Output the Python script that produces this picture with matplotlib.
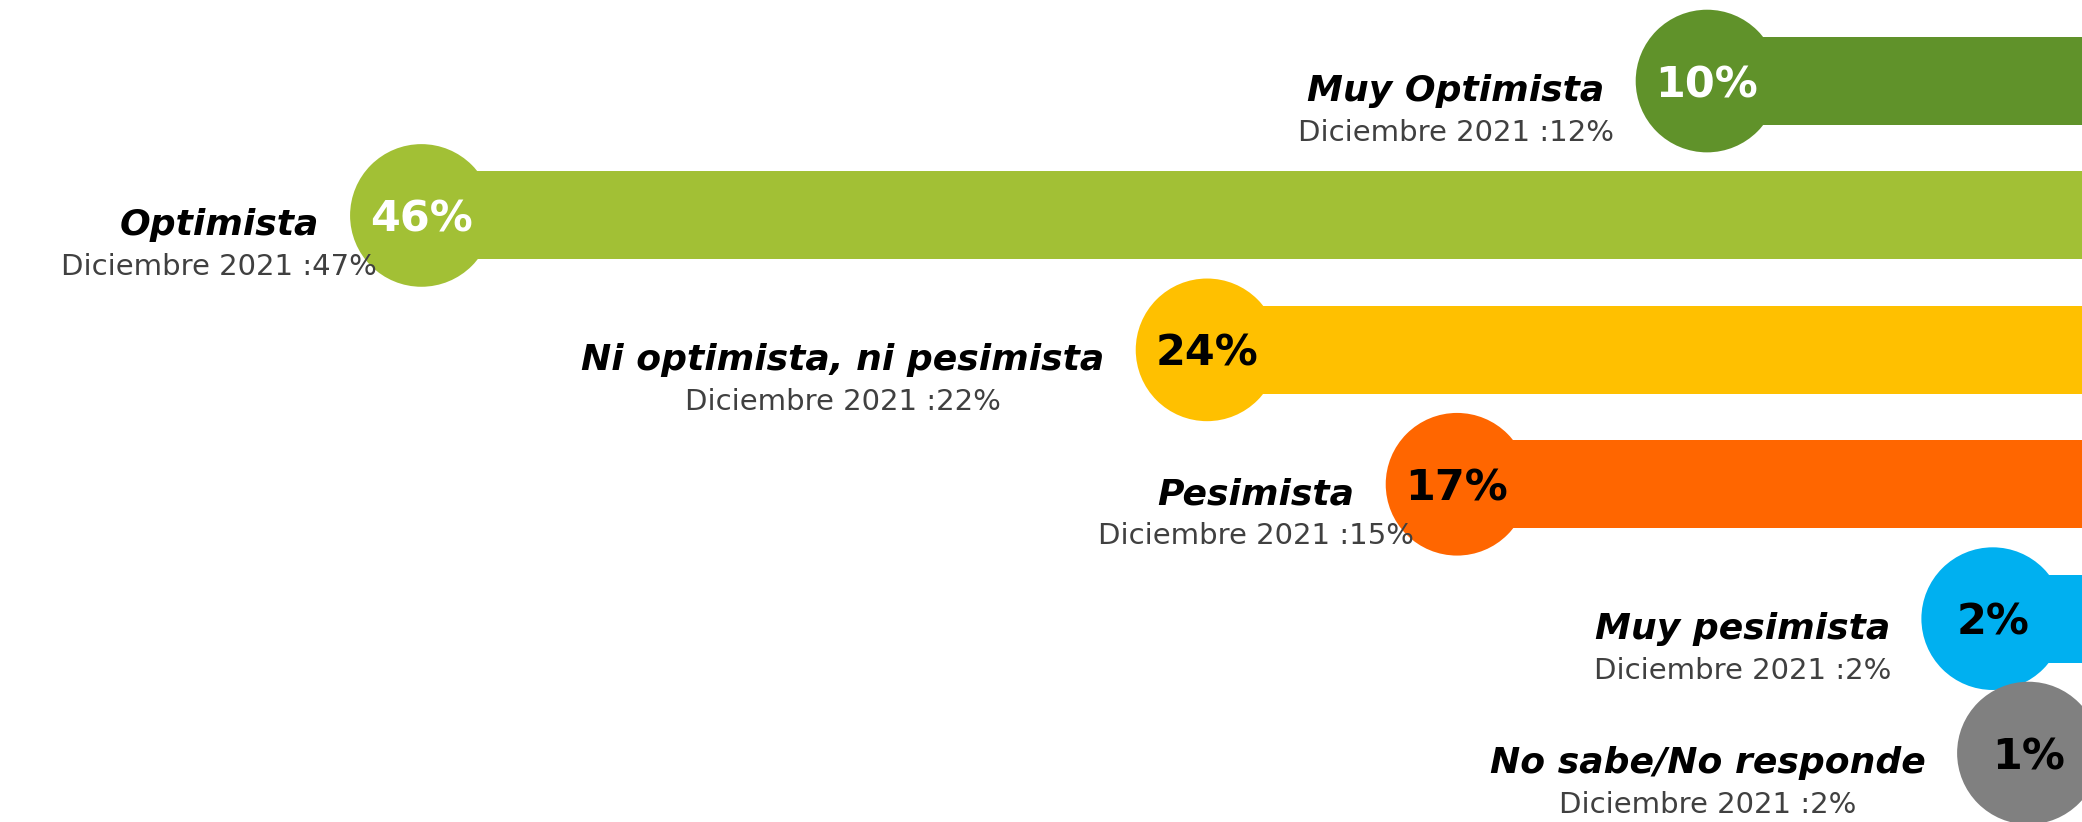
import matplotlib
matplotlib.use("Agg")
import matplotlib.pyplot as plt

categories = ["Muy Optimista", "Optimista", "Ni optimista, ni pesimista",
              "Pesimista", "Muy pesimista", "No sabe/No responde"]
values = [10, 46, 24, 17, 2, 1]
previous = [12, 47, 22, 15, 2, 2]
prev_label = "Diciembre 2021"

colors = ["#60922A", "#A2C035", "#FFC000", "#FF6600", "#00B0F0", "#808080"]
value_colors = ["white", "white", "black", "black", "black", "black"]

FONT = "DejaVu Sans"

fig = plt.figure(figsize=(20.82, 8.22), dpi=100)
ax = fig.add_axes([0, 0, 1, 1])
ax.set_xlim(57.8, -0.5)      # bars grow leftwards from the right edge
ax.set_ylim(5.513, -0.603)
ax.axis("off")

rows = list(range(len(categories)))
x_right = -1
ax.barh(rows, [v - x_right for v in values], left=x_right, height=0.655,
        color=colors, zorder=1)
ax.scatter(values, rows, s=10550, c=colors, linewidths=0, zorder=2)

for i, (cat, v, p) in enumerate(zip(categories, values, previous)):
    ax.annotate(f"{v}%", xy=(v, i), xytext=(0, -11.5), textcoords="offset points",
                ha="center", va="baseline", fontsize=31, fontweight="bold",
                family=FONT, color=value_colors[i], zorder=4)
    lab = ax.annotate(cat, xy=(v, i), xytext=(-74, -14.4),
                      textcoords="offset points", ha="right", va="baseline",
                      fontsize=26, fontweight="bold", fontstyle="italic",
                      family=FONT, color="black", zorder=4)
    ax.annotate(f"{prev_label} :{p}%", xy=(0.5, i), xycoords=(lab, "data"),
                xytext=(0, -43.2), textcoords="offset points",
                ha="center", va="baseline", fontsize=21, family=FONT,
                color="#404040", zorder=4)

fig.savefig("out.png", dpi=100)
